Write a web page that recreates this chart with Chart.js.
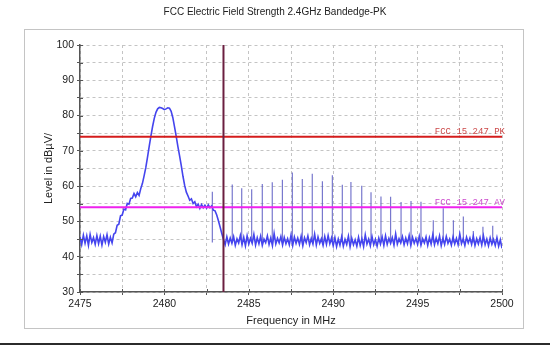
<!DOCTYPE html>
<html>
<head>
<meta charset="utf-8">
<script src="https://cdn.jsdelivr.net/npm/chart.js@4.4.1/dist/chart.umd.min.js"></script>
<style>
  html, body { margin: 0; padding: 0; background: #fff; }
  #wrap { position: relative; width: 550px; height: 345px; overflow: hidden; }
  #panel { position: absolute; left: 24px; top: 29px; width: 500px; height: 300px; box-sizing: border-box; border: 1px solid #c4c4c4; }
  #rule { position: absolute; left: 0; top: 343px; width: 550px; height: 2px; background: #2b2b2b; }
  canvas { position: absolute; left: 0; top: 0; }
</style>
</head>
<body>
<div id="wrap">
  <div id="panel"></div>
  <div id="rule"></div>
  <canvas id="chart" width="550" height="345"></canvas>
</div>
<script>
// --- Sweep (one reading every 0.1 MHz, 2475.0 .. 2500.0) ---
const sweepStart = 2475;
const sweepStep = 0.1;
const sweepLevels = [
  45.6, 43.4, 46.1, 43.8, 45.9, 43.2, 46.3, 44.0, 45.4, 43.5, 46.0, 43.7, 45.8, 43.3, 45.7, 44.1, 46.2, 43.6, 45.5, 43.9, 46.4,
  46.8, 48.9, 49.2, 51.6, 51.8, 53.5, 53.3, 55.1, 54.9, 56.5,
  56.6, 57.9, 57.0, 58.2, 57.4, 59.3, 60.8, 63.0, 65.3, 68.2,
  71.3, 74.2, 76.9, 79.2, 80.9, 81.9, 82.3, 82.2, 82.0, 81.7,
  81.9, 82.2, 82.1, 81.2, 79.4, 76.8, 74.1, 71.2, 68.6, 65.8,
  62.8, 60.2, 58.3, 57.2, 56.0, 56.4, 55.1, 55.6, 54.2, 54.9,
  53.7, 54.8, 53.9, 54.6, 53.8, 54.7, 53.9, 54.4, 53.2, 53.0,
  51.8, 50.2, 48.4, 46.6, 44.9, 43.4, 45.6, 43.6, 45.3, 43.8,
  45.7, 43.2, 45.1, 43.9, 46.0, 43.4, 45.5, 43.1, 45.9, 43.6,
  45.2, 43.8, 46.3, 43.3, 45.4, 43.7, 45.8, 43.2, 45.0, 44.0,
  45.9, 43.5, 45.3, 43.1, 46.6, 43.6, 45.2, 43.9, 45.7, 43.3,
  45.5, 43.7, 45.1, 43.4, 46.1, 43.2, 45.6, 43.8, 45.3, 43.5,
  45.8, 43.1, 45.4, 44.0, 45.9, 43.4, 45.2, 43.6, 46.4, 43.3,
  45.6, 43.8, 45.1, 43.2, 45.7, 43.5, 46.0, 43.7, 45.3, 43.1,
  45.4, 42.9, 45.0, 43.3, 45.6, 43.0, 44.9, 43.5, 45.8, 42.8,
  45.2, 43.4, 44.8, 43.0, 45.5, 43.2, 45.1, 42.9, 46.2, 43.6,
  45.0, 43.1, 45.7, 43.4, 44.9, 43.0, 45.3, 43.6, 45.6, 43.2,
  45.9, 43.5, 45.2, 43.8, 45.4, 43.3, 46.5, 43.6, 45.1, 43.9,
  45.7, 43.4, 45.3, 43.7, 46.0, 43.2, 45.5, 43.8, 45.2, 43.5,
  45.8, 43.3, 45.1, 43.9, 45.6, 43.2, 45.4, 43.6, 46.2, 43.4,
  45.3, 43.7, 45.9, 43.1, 45.2, 43.5, 45.7, 43.8, 45.0, 43.3,
  45.6, 43.6, 45.2, 43.4, 46.4, 43.7, 45.1, 43.2, 45.5, 43.9,
  45.3, 43.5, 45.8, 43.2, 45.1, 43.6, 45.4, 43.3, 45.9, 43.4,
  45.0, 43.1, 45.3, 43.5, 44.9, 43.2, 45.4, 43.0, 44.8, 42.4
];

// --- Narrow spurs sticking out of the noise floor ---
const spurFreqs = [2482.84, 2484.02, 2484.58, 2485.17, 2485.80, 2486.39, 2486.99, 2487.58, 2488.17, 2488.76,
                   2489.36, 2489.95, 2490.54, 2491.05, 2491.69, 2492.24, 2492.83, 2493.40, 2494.02, 2494.61,
                   2495.20, 2495.93, 2496.52, 2497.12, 2497.71, 2498.30, 2498.87, 2499.45];
const spurLevels = [58.4, 60.5, 59.4, 59.1, 60.6, 61.1, 61.8, 63.9, 62.0, 63.5,
                    61.4, 63.1, 60.4, 61.2, 60.1, 58.3, 57.1, 57.0, 55.5, 55.8,
                    55.6, 50.3, 53.7, 50.3, 51.4, 47.3, 48.5, 48.8];
const spurFloor = 44;

// --- Limits and band edge marker ---
const limitNames = ['FCC 15.247 PK', 'FCC 15.247 AV'];
const limitLevels = [74, 54];
const limitColors = ['#d41c1c', '#ee22ee'];
const limitTextColors = ['#cc4a4a', '#cc4acc'];
const bandEdge = 2483.5;

const freqMin = 2475, freqMax = 2500;
const levelMin = 30, levelMax = 100;

const FONT = '"Liberation Sans", Arial, sans-serif';

// --- Build datasets ---
const sweepPoints = sweepLevels.map((v, i) => ({ x: +(sweepStart + i * sweepStep).toFixed(1), y: v }));

const spurPoints = [];
spurFreqs.forEach((f, i) => {
    spurPoints.push({ x: f, y: spurFloor }, { x: f, y: spurLevels[i] }, { x: f, y: null });
});

const limitSets = limitLevels.map((lv, i) => ({
    label: limitNames[i],
    data: [{ x: freqMin, y: lv }, { x: freqMax, y: lv }],
    borderColor: limitColors[i],
    borderWidth: 2,
    pointRadius: 0,
    order: 1
}));

// --- Plugins ---
const limitLabels = {
    id: 'limitLabels',
    afterDatasetsDraw(chart) {
        const { ctx, scales: { x, y } } = chart;
        ctx.save();
        ctx.font = '9px "Liberation Mono", "Courier New", monospace';
        ctx.textAlign = 'right';
        ctx.textBaseline = 'alphabetic';
        limitNames.forEach((name, i) => {
            ctx.fillStyle = limitTextColors[i];
            ctx.fillText(name, x.getPixelForValue(freqMax) + 3, y.getPixelForValue(limitLevels[i]) - 2.5);
        });
        ctx.restore();
    }
};

// tick marks also poke a little inside the plot
const innerTicks = {
    id: 'innerTicks',
    afterDraw(chart) {
        const { ctx, chartArea: a, scales: { x, y } } = chart;
        ctx.save();
        ctx.strokeStyle = '#555';
        ctx.lineWidth = 1;
        ctx.beginPath();
        y.ticks.forEach(t => {
            const py = Math.round(y.getPixelForValue(t.value)) + 0.5;
            ctx.moveTo(a.left, py);
            ctx.lineTo(a.left + 3, py);
        });
        x.ticks.forEach(t => {
            const px = Math.round(x.getPixelForValue(t.value)) + 0.5;
            ctx.moveTo(px, a.bottom);
            ctx.lineTo(px, a.bottom - 3);
        });
        ctx.stroke();
        ctx.restore();
    }
};

// --- Chart ---
const ctx = document.getElementById('chart').getContext('2d');
const chart = new Chart(ctx, {
    type: 'line',
    data: {
        datasets: [
            {
                label: 'Band edge',
                data: [{ x: bandEdge, y: levelMin }, { x: bandEdge, y: levelMax }],
                borderColor: '#6b1f40',
                borderWidth: 2,
                pointRadius: 0,
                order: 0
            },
            ...limitSets,
            {
                label: 'Trace',
                data: sweepPoints,
                borderColor: '#4444ee',
                borderWidth: 1.6,
                pointRadius: 0,
                tension: 0,
                order: 3
            },
            {
                label: 'Spurs',
                data: spurPoints,
                borderColor: 'rgba(96, 96, 196, 0.85)',
                borderWidth: 1.2,
                pointRadius: 0,
                spanGaps: false,
                order: 4
            }
        ]
    },
    options: {
        responsive: false,
        animation: false,
        devicePixelRatio: 1,
        layout: { padding: 0 },
        plugins: {
            legend: { display: false },
            tooltip: { enabled: false },
            title: {
                display: true,
                text: 'FCC Electric Field Strength 2.4GHz Bandedge-PK',
                color: '#222',
                font: { family: FONT, size: 10, weight: 'normal' },
                padding: { top: 6, bottom: 27 }
            }
        },
        scales: {
            x: {
                type: 'linear',
                min: freqMin,
                max: freqMax,
                ticks: {
                    stepSize: 2.5,
                    autoSkip: false,
                    maxRotation: 0,
                    color: '#222',
                    padding: 3,
                    font: { family: FONT, size: 10.5 },
                    callback: v => (v % 5 === 0 ? String(v) : '')
                },
                grid: { color: '#c4c4c4', lineWidth: 1, tickLength: 3, tickColor: '#555', tickWidth: 1 },
                border: { display: true, color: '#555', width: 1.5, dash: [3, 3] },
                title: {
                    display: true,
                    text: 'Frequency in MHz',
                    color: '#222',
                    font: { family: FONT, size: 11 },
                    padding: { top: 0, bottom: 17.4 }
                },
                afterFit(s) { s.height = 53; }
            },
            y: {
                type: 'linear',
                min: levelMin,
                max: levelMax,
                ticks: {
                    stepSize: 5,
                    autoSkip: false,
                    color: '#222',
                    padding: 3,
                    font: { family: FONT, size: 10.5 },
                    callback: v => (v % 10 === 0 ? String(v) : '')
                },
                grid: { color: '#c4c4c4', lineWidth: 1, tickLength: 3, tickColor: '#555', tickWidth: 1 },
                border: { display: true, color: '#555', width: 1.5, dash: [3, 3] },
                title: {
                    display: true,
                    text: 'Level in dBµV/',
                    color: '#222',
                    font: { family: FONT, size: 11 },
                    padding: { top: 42.4, bottom: 0 }
                },
                afterFit(s) { s.width = 80; }
            },
            yPad: {
                position: 'right',
                display: true,
                grid: { display: false, drawTicks: false },
                border: { display: false },
                ticks: { display: false },
                afterFit(s) { s.width = 48; }
            }
        }
    },
    plugins: [limitLabels, innerTicks]
});
</script>
</body>
</html>
